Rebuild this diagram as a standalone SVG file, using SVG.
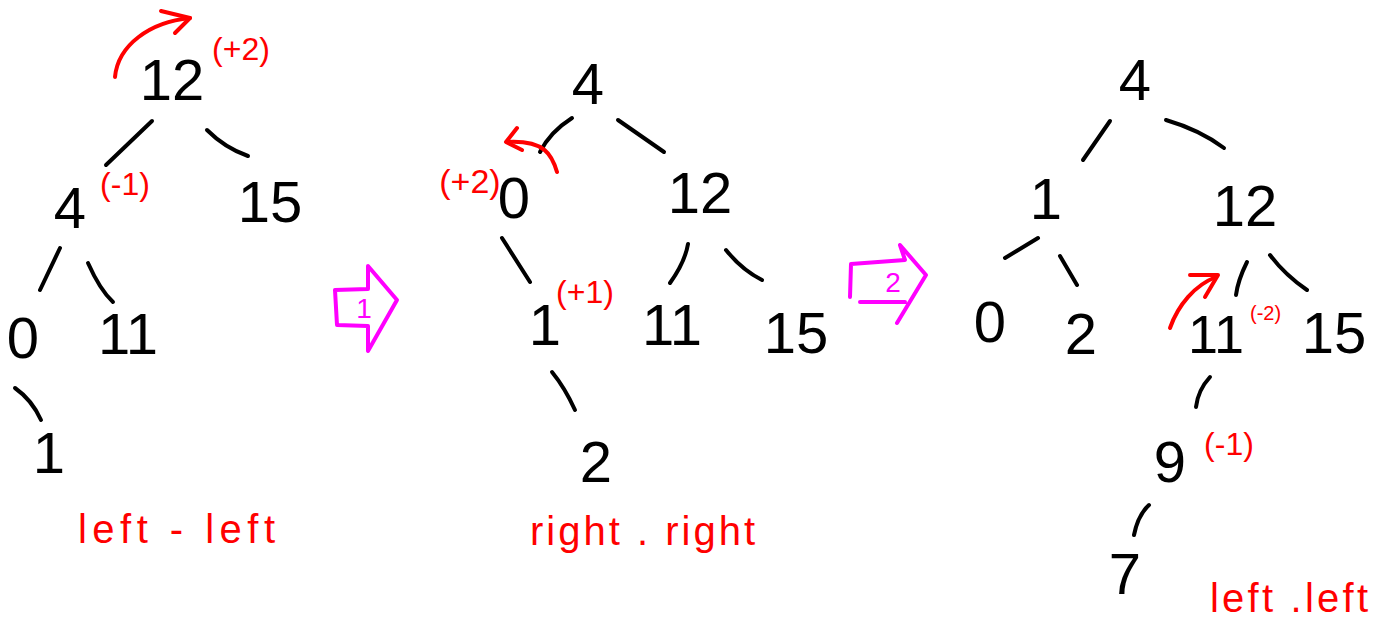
<svg xmlns="http://www.w3.org/2000/svg" width="1379" height="633" viewBox="0 0 1379 633">
<style>
.n{font-family:"Liberation Sans","DejaVu Sans",sans-serif;font-size:58px;fill:#000;text-anchor:middle}
.r{font-family:"Liberation Sans","DejaVu Sans",sans-serif;font-size:32px;fill:#ff0000;text-anchor:middle}
.m{font-family:"Liberation Sans","DejaVu Sans",sans-serif;font-size:28px;fill:#ff00ff;text-anchor:middle}
.e{stroke:#000;stroke-width:4;fill:none;stroke-linecap:round}
.ra{stroke:#ff0000;stroke-width:4;fill:none;stroke-linecap:round;stroke-linejoin:round}
.ma{stroke:#ff00ff;stroke-width:4;fill:none;stroke-linecap:round;stroke-linejoin:round}
</style>
<rect width="1379" height="633" fill="#fff"/>
<g id="connectors">
<path class="e" d="M152,121 L106,165"/>
<path class="e" d="M207,130 Q225,148 248,156"/>
<path class="e" d="M60,248 L40,290"/>
<path class="e" d="M88,263 Q100,290 113,302"/>
<path class="e" d="M15,388 Q32,400 41,420"/>
<path class="e" d="M572,118 Q550,132 540,152"/>
<path class="e" d="M618,120 L664,152"/>
<path class="e" d="M502,238 L530,282"/>
<path class="e" d="M688,244 Q685,262 670,283"/>
<path class="e" d="M726,250 Q742,270 762,280"/>
<path class="e" d="M552,372 Q565,388 575,410"/>
<path class="e" d="M1110,121 L1083,160"/>
<path class="e" d="M1166,120 Q1200,130 1224,148"/>
<path class="e" d="M1038,238 L1005,258"/>
<path class="e" d="M1060,256 L1077,285"/>
<path class="e" d="M1247,262 Q1238,280 1236,295"/>
<path class="e" d="M1270,255 Q1285,275 1307,290"/>
<path class="e" d="M1210,377 Q1198,390 1196,407"/>
<path class="e" d="M1149,505 Q1138,515 1134,535"/>
</g>
<g id="tree1">
<g id="t1-12"><text class="n" x="172" y="100">12</text></g>
<g id="t1-4"><text class="n" x="70" y="228">4</text></g>
<g id="t1-15"><text class="n" x="270" y="222">15</text></g>
<g id="t1-0"><text class="n" x="23" y="358">0</text></g>
<g id="t1-11"><text class="n" x="128" y="354">11</text></g>
<g id="t1-1"><text class="n" x="49" y="473">1</text></g>
<text class="r" x="241" y="60">(+2)</text>
<text class="r" x="125" y="195">(-1)</text>
<path class="ra" d="M115,77 C118,45 150,22 190,18"/>
<path class="ra" d="M161,11 L190,18 L175,33"/>
<text class="r" x="78" y="543" textLength="197" lengthAdjust="spacing" style="text-anchor:start;font-size:40px">left - left</text>
</g>
<g id="step1">
<path class="ma" d="M335,290 L368,289 L368,266 L397,300 L368,351 L368,326 L337,325 Z"/>
<text class="m" x="364" y="318">1</text>
</g>
<g id="tree2">
<g id="t2-4"><text class="n" x="588" y="104">4</text></g>
<g id="t2-0"><text class="n" x="514" y="218">0</text></g>
<g id="t2-12"><text class="n" x="700" y="213">12</text></g>
<g id="t2-1"><text class="n" x="545" y="345">1</text></g>
<g id="t2-11"><text class="n" x="672" y="345">11</text></g>
<g id="t2-15"><text class="n" x="796" y="353">15</text></g>
<g id="t2-2"><text class="n" x="596" y="482">2</text></g>
<text class="r" x="470" y="193" style="font-size:34px">(+2)</text>
<text class="r" x="585" y="303">(+1)</text>
<path class="ra" d="M557,172 C552,155 545,140 507,142"/>
<path class="ra" d="M517,128 L506,142 L522,150"/>
<text class="r" x="530" y="545" textLength="225" lengthAdjust="spacing" style="text-anchor:start;font-size:40px">right . right</text>
</g>
<g id="step2">
<path class="ma" d="M851,264 L905,260 L900,245 L926,275 L897,323 M905,302 L860,302 M851,264 L850,297"/>
<text class="m" x="893" y="292">2</text>
</g>
<g id="tree3">
<g id="t3-4"><text class="n" x="1135" y="100">4</text></g>
<g id="t3-1"><text class="n" x="1046" y="219">1</text></g>
<g id="t3-12"><text class="n" x="1245" y="226">12</text></g>
<g id="t3-0"><text class="n" x="990" y="342">0</text></g>
<g id="t3-2"><text class="n" x="1081" y="354">2</text></g>
<g id="t3-11"><text class="n" x="1216" y="353" style="font-size:54px">11</text></g>
<g id="t3-15"><text class="n" x="1334" y="353">15</text></g>
<g id="t3-9"><text class="n" x="1170" y="482">9</text></g>
<g id="t3-7"><text class="n" x="1125" y="594">7</text></g>
<text class="r" x="1250" y="320" style="text-anchor:start;font-size:20px">(-2)</text>
<text class="r" x="1229" y="455">(-1)</text>
<path class="ra" d="M1170,328 C1178,305 1195,285 1216,277"/>
<path class="ra" d="M1190,275 L1218,275 L1205,297"/>
<text class="r" x="1210" y="612" textLength="158" lengthAdjust="spacing" style="text-anchor:start;font-size:40px">left .left</text>
</g>
</svg>
